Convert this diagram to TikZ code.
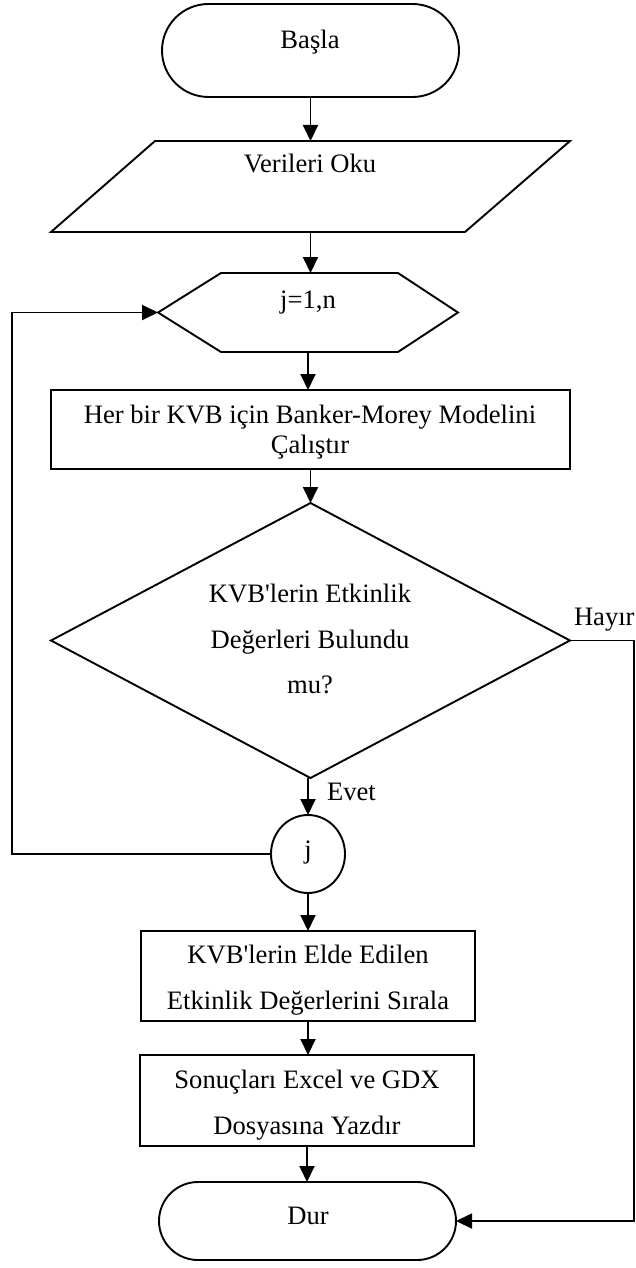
\documentclass[tikz,border=0pt]{standalone}
\usepackage{fontspec}
\setmainfont{Liberation Serif}[Ligatures=TeXOff]
\usetikzlibrary{arrows.meta,shapes.misc,shapes.geometric}

\begin{document}
\begin{tikzpicture}[x=1pt,y=-1pt,
  line width=1.9pt,
  every node/.style={inner sep=0pt, outer sep=0pt},
  hold/.style={rectangle, minimum width=#1},
  flowbox/.style={rectangle, draw, line width=1.9pt, minimum width=#1},
  terminal/.style={rounded rectangle, draw, line width=1.9pt, minimum width=#1},
  outline/.style={draw, line width=1.9pt, line join=miter},
  lbl/.style={anchor=base, font=\fontsize{26.6}{30}\selectfont},
  arr/.style={-{Triangle[length=16pt,width=15pt]}, line width=1.9pt}]

\useasboundingbox (0,0) rectangle (636,1268);

% --- shapes ---
\node[terminal=297pt, minimum height=93pt] (start) at (310.5,50.5) {};

\node[hold=519pt, minimum height=91pt] (read) at (310.5,186.5) {};
\draw[outline] ([xshift=104pt]read.north west) -- (read.north east)
  -- ([xshift=-105pt]read.south east) -- (read.south west) -- cycle;

\node[hold=300pt, minimum height=79pt] (loop) at (308,312.5) {};
\draw[outline] (loop.west) -- ([xshift=63pt]loop.north west)
  -- ([xshift=-60pt]loop.north east) -- (loop.east)
  -- ([xshift=-60pt]loop.south east) -- ([xshift=63pt]loop.south west) -- cycle;

\node[flowbox=519pt, minimum height=79pt] (run) at (310.5,429.5) {};

\node[hold=519pt, minimum height=275pt] (check) at (310.5,640.5) {};
\draw[outline] (check.north) -- (check.east) -- (check.south) -- (check.west) -- cycle;

\node[ellipse, draw, line width=1.9pt, minimum width=74pt, minimum height=78pt] (conn) at (308,854) {};

\node[flowbox=334pt, minimum height=90pt] (sort) at (308,976) {};
\node[flowbox=334pt, minimum height=91pt] (write) at (307,1100.5) {};
\node[terminal=297pt, minimum height=78pt] (stop) at (307.5,1221) {};

% --- texts ---
\node[lbl] (t-start) at (310,49) {Başla};
\node[lbl] (t-read) at (310,173) {Verileri Oku};
\node[lbl] (t-loop) at (308,308) {j=1,n};
\node[lbl] (t-run1) at (310,423) {Her bir KVB için Banker-Morey Modelini};
\node[lbl] (t-run2) at (310,453) {Çalıştır};
\node[lbl] (t-chk1) at (310,602) {KVB'lerin Etkinlik};
\node[lbl] (t-chk2) at (310,648) {Değerleri Bulundu};
\node[lbl] (t-chk3) at (310,693) {mu?};
\node[lbl] (t-conn) at (308,858) {j};
\node[lbl] (t-sort1) at (308,963) {KVB'lerin Elde Edilen};
\node[lbl] (t-sort2) at (308,1009) {Etkinlik Değerlerini Sırala};
\node[lbl] (t-write1) at (307,1088) {Sonuçları Excel ve GDX};
\node[lbl] (t-write2) at (307,1134) {Dosyasına Yazdır};
\node[lbl] (t-stop) at (308,1224) {Dur};
\node[lbl, anchor=base west] (t-no) at (574,625) {Hayır};
\node[lbl, anchor=base west] (t-yes) at (327,800) {Evet};

% --- connectors ---
\coordinate (railL) at (12,0);
\coordinate (railR) at (634,0);

\draw[arr] (start.south) -- (start.south |- read.north);
\draw[arr] (read.south) -- (read.south |- loop.north);
\draw[arr] (loop.south) -- (loop.south |- run.north);
\draw[arr] (run.south) -- (run.south |- check.north);
\draw[arr] (conn.north |- check.south) -- (conn.north);
\draw[arr] (conn.south) -- (conn.south |- sort.north);
\draw[arr] (sort.south) -- (sort.south |- write.north);
\draw[arr] (write.south) -- (write.south |- stop.north);

\draw[arr] (conn.west) -- (conn.west -| railL) |- (loop.west);
\draw[arr] (check.east) -- (check.east -| railR) |- (stop.east);
\end{tikzpicture}
\end{document}
